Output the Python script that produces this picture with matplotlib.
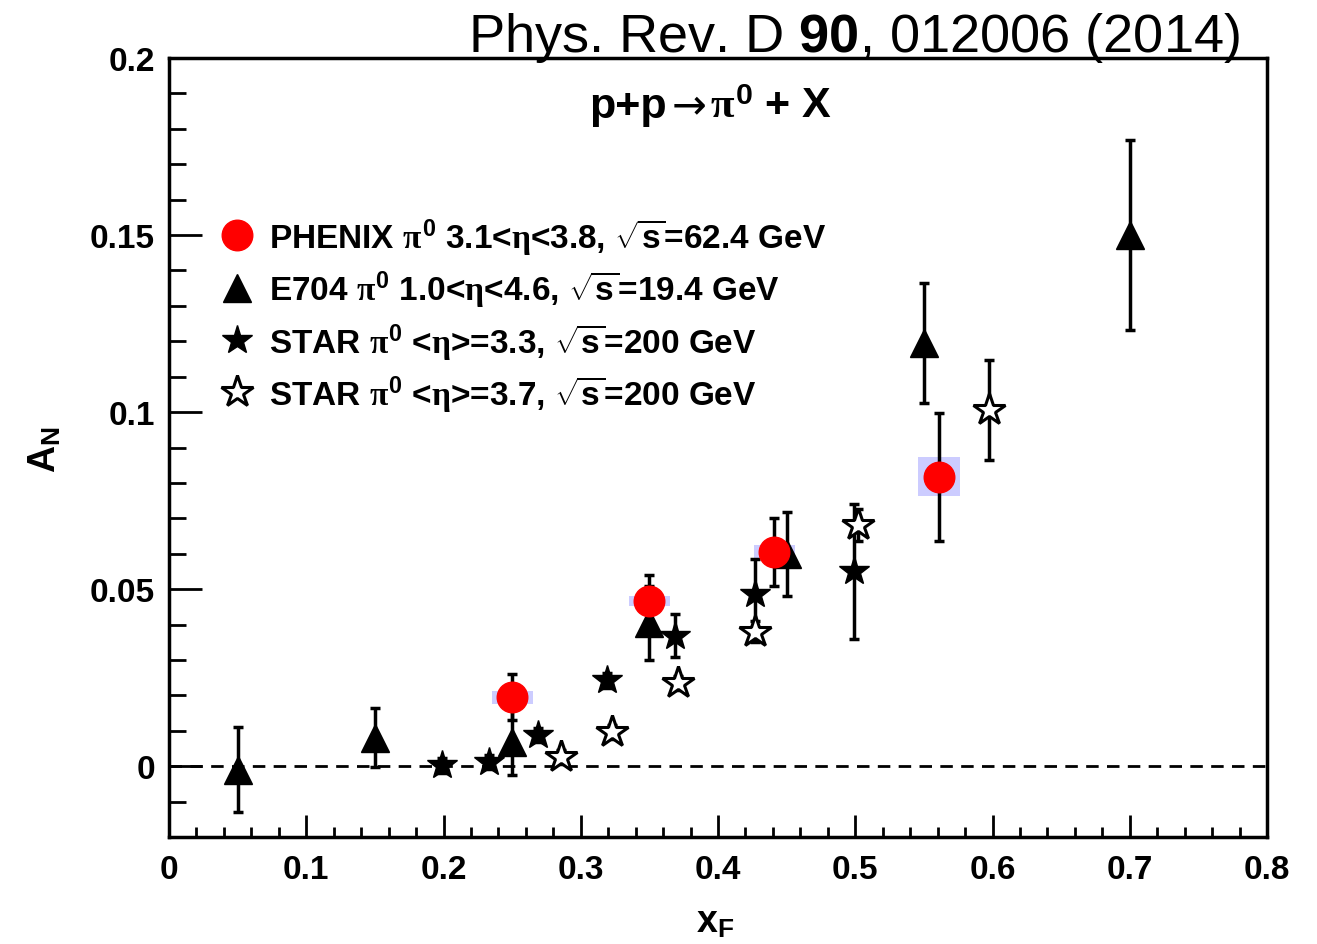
import matplotlib.pyplot as plt
from matplotlib.lines import Line2D
from matplotlib.ticker import MultipleLocator, FixedLocator, FixedFormatter

plt.rcParams["font.family"] = ["Liberation Sans", "DejaVu Sans"]
plt.rcParams["font.weight"] = "bold"
plt.rcParams["mathtext.fontset"] = "custom"
plt.rcParams["mathtext.rm"] = "Liberation Sans:bold"
plt.rcParams["mathtext.bf"] = "Liberation Sans:bold"
plt.rcParams["mathtext.sf"] = "Liberation Sans:bold"
plt.rcParams["mathtext.it"] = "Liberation Serif"

# PHENIX pi0, 3.1<eta<3.8, sqrt(s)=62.4 GeV
phenix_x = [0.250, 0.350, 0.441, 0.561]
phenix_y = [0.0195, 0.0467, 0.0606, 0.0817]
phenix_err = [0.0065, 0.0073, 0.0096, 0.0180]
phenix_sys = [0.0018, 0.0015, 0.0018, 0.0055]
phenix_box_w = 0.030

# E704 pi0, 1.0<eta<4.6, sqrt(s)=19.4 GeV
e704_x = [0.05, 0.15, 0.25, 0.35, 0.45, 0.55, 0.70]
e704_y = [-0.0010, 0.0080, 0.0068, 0.0404, 0.0600, 0.1195, 0.1500]
e704_err = [0.0120, 0.0083, 0.0094, 0.0104, 0.0118, 0.0170, 0.0268]

# STAR pi0 <eta>=3.3, sqrt(s)=200 GeV
star33_x = [0.199, 0.233, 0.269, 0.319, 0.369, 0.427, 0.499]
star33_y = [0.0002, 0.0011, 0.0087, 0.0242, 0.0369, 0.0486, 0.0550]
star33_err = [0.0020, 0.0020, 0.0020, 0.0020, 0.0060, 0.0100, 0.0190]

# STAR pi0 <eta>=3.7, sqrt(s)=200 GeV
star37_x = [0.2856, 0.3226, 0.371, 0.427, 0.502, 0.5976]
star37_y = [0.0025, 0.0096, 0.0235, 0.0380, 0.0680, 0.1007]
star37_err = [0.0020, 0.0020, 0.0020, 0.0030, 0.0045, 0.0141]

labels = [
    r"PHENIX $\pi^{0}$ 3.1<$\eta$<3.8, $\sqrt{\mathrm{s}}$=62.4 GeV",
    r"E704 $\pi^{0}$ 1.0<$\eta$<4.6, $\sqrt{\mathrm{s}}$=19.4 GeV",
    r"STAR $\pi^{0}$ <$\eta$>=3.3, $\sqrt{\mathrm{s}}$=200 GeV",
    r"STAR $\pi^{0}$ <$\eta$>=3.7, $\sqrt{\mathrm{s}}$=200 GeV",
]

x_ticks = [0, 0.1, 0.2, 0.3, 0.4, 0.5, 0.6, 0.7, 0.8]
x_ticklabels = ["0", "0.1", "0.2", "0.3", "0.4", "0.5", "0.6", "0.7", "0.8"]
y_ticks = [0, 0.05, 0.1, 0.15, 0.2]
y_ticklabels = ["0", "0.05", "0.1", "0.15", "0.2"]

fig = plt.figure(figsize=(13.17, 9.45), dpi=100)
ax = fig.add_axes([169 / 1317, 1 - 838 / 945, 1098 / 1317, 779 / 945])
ax.set_xlim(0, 0.8)
ax.set_ylim(-0.02, 0.2)

ax.axhline(0, color="black", lw=2.0, ls=(0, (4.5, 3)), zorder=1)

# systematic boxes
sys_bottom = [y - s for y, s in zip(phenix_y, phenix_sys)]
sys_height = [2 * s for s in phenix_sys]
ax.bar(phenix_x, sys_height, width=phenix_box_w, bottom=sys_bottom,
       color="#ccccff", edgecolor="none", zorder=2)

ebar = dict(fmt="none", ecolor="black", elinewidth=2.5, capsize=3.5, capthick=2.5, zorder=3)
ax.errorbar(e704_x, e704_y, yerr=e704_err, **ebar)
ax.errorbar(star33_x, star33_y, yerr=star33_err, **ebar)
ax.errorbar(star37_x, star37_y, yerr=star37_err, **ebar)
ax.errorbar(phenix_x, phenix_y, yerr=phenix_err, **ebar)

tri = dict(marker="^", ms=20, color="black", ls="none")
fstar = dict(marker="*", ms=22, color="black", ls="none")
ostar = dict(marker="*", ms=24, markerfacecolor="white", markeredgecolor="black",
             markeredgewidth=2.2, ls="none")
circ = dict(marker="o", ms=22, color="red", ls="none")

ax.plot(e704_x, e704_y, zorder=4, **tri)
ax.plot(star33_x, star33_y, zorder=5, **fstar)
ax.plot(star37_x, star37_y, zorder=6, **ostar)
ax.plot(phenix_x, phenix_y, zorder=7, **circ)

handles = [Line2D([], [], **circ), Line2D([], [], **tri),
           Line2D([], [], **fstar), Line2D([], [], **ostar)]
ax.legend(handles, labels, loc="upper left", bbox_to_anchor=(0.047, 0.797),
          frameon=False, fontsize=24, handlelength=0.96, handletextpad=0.48,
          labelspacing=0.37, borderpad=0, borderaxespad=0)

# reaction label in three pieces so the arrow can be a thin DejaVu glyph
title_y = 0.924
ax.text(0.4536, title_y, "p+p", transform=ax.transAxes, ha="right", va="baseline", fontsize=31)
ax.text(0.4736, title_y, "\u2192", transform=ax.transAxes, ha="center", va="baseline",
        fontsize=30, family="DejaVu Sans", fontweight="normal")
ax.text(0.4927, title_y, r"$\pi^{0}$ + X", transform=ax.transAxes, ha="left", va="baseline",
        fontsize=31)

ax.xaxis.set_major_locator(FixedLocator(x_ticks))
ax.xaxis.set_major_formatter(FixedFormatter(x_ticklabels))
ax.xaxis.set_minor_locator(MultipleLocator(0.02))
ax.yaxis.set_major_locator(FixedLocator(y_ticks))
ax.yaxis.set_major_formatter(FixedFormatter(y_ticklabels))
ax.yaxis.set_minor_locator(MultipleLocator(0.01))

ax.tick_params(axis="both", which="both", direction="in", top=False, right=False,
               width=2, labelsize=24)
ax.tick_params(axis="x", which="major", length=16, pad=12)
ax.tick_params(axis="x", which="minor", length=7.5)
ax.tick_params(axis="y", which="major", length=24, pad=10)
ax.tick_params(axis="y", which="minor", length=12)
for sp in ax.spines.values():
    sp.set_linewidth(2.5)

ax.set_xlabel(r"x$_{\mathrm{F}}$", fontsize=27, fontweight="bold")
ax.xaxis.set_label_coords(0.497, -0.086)
ax.set_ylabel(r"A$_{\mathrm{N}}$", fontsize=27, fontweight="bold")
ax.yaxis.set_label_coords(-0.096, 0.498)

fig.text(1240 / 1317, 1 - 38 / 945, r"Phys. Rev. D $\mathbf{90}$, 012006 (2014)",
         ha="right", va="center", fontsize=39, fontweight="normal")

fig.savefig("out.png", dpi=100)
